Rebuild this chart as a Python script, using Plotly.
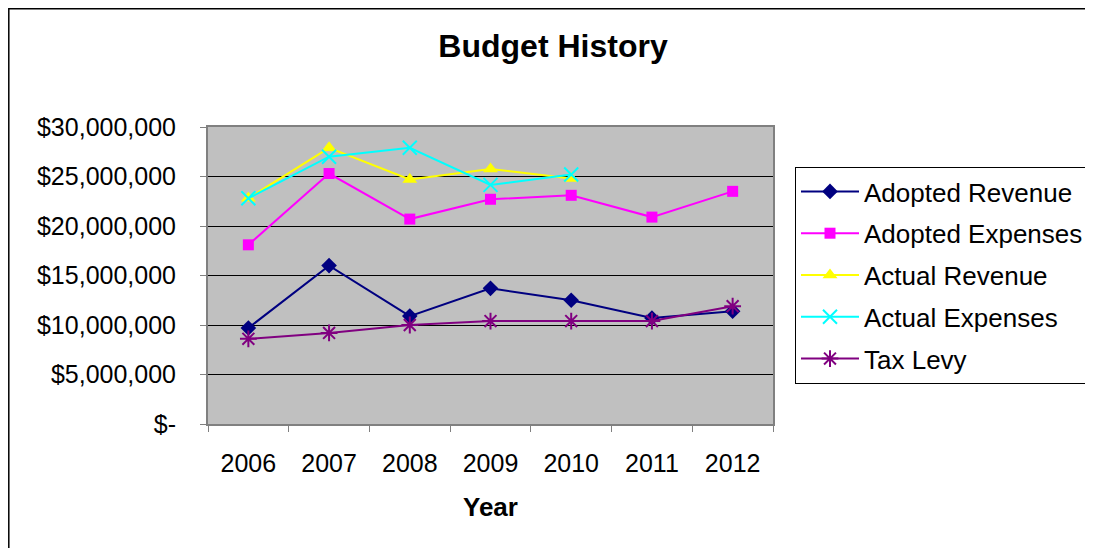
import plotly.graph_objects as go

years = ["2006", "2007", "2008", "2009", "2010", "2011", "2012"]
adopted_revenue = [9.7e6, 16.0e6, 10.9e6, 13.7e6, 12.5e6, 10.7e6, 11.4e6]
adopted_expenses = [18.1e6, 25.3e6, 20.7e6, 22.7e6, 23.1e6, 20.9e6, 23.5e6]
actual_revenue = [22.8e6, 27.9e6, 24.7e6, 25.75e6, 24.8e6, None, None]
actual_expenses = [22.8e6, 27.0e6, 27.9e6, 24.15e6, 25.2e6, None, None]
tax_levy = [8.6e6, 9.2e6, 10.0e6, 10.4e6, 10.4e6, 10.4e6, 11.9e6]

ytick_vals = [0, 5e6, 10e6, 15e6, 20e6, 25e6, 30e6]
ytick_text = ["$-", "$5,000,000", "$10,000,000", "$15,000,000",
              "$20,000,000", "$25,000,000", "$30,000,000"]

FONT = "Liberation Sans, Arial, sans-serif"

series = [
    ("Adopted Revenue", adopted_revenue, "#000080", "diamond", 12, 0),
    ("Adopted Expenses", adopted_expenses, "#FF00FF", "square", 11, 0),
    ("Actual Revenue", actual_revenue, "#FFFF00", "triangle-up", 13, 0),
    ("Actual Expenses", actual_expenses, "#00FFFF", "x-thin-open", 14, 2),
    ("Tax Levy", tax_levy, "#800080", "asterisk-open", 14, 2),
]

fig = go.Figure()
for i, (name, vals, color, sym, size, lw) in enumerate(series):
    marker = dict(symbol=sym, size=size, color=color)
    if lw:
        marker["line"] = dict(color=color, width=lw)
    fig.add_trace(go.Scatter(
        x=years, y=vals, name=name, mode="lines+markers",
        line=dict(color=color, width=2), marker=marker,
        legendgroup="g%d" % i, connectgaps=False,
    ))

# page offset (body margin) of 8px
OFF = 8
# target plot area in screen pixels: x 208..773, y 127..424
L, R, T, B = 208 - OFF, 773 - OFF, 127 - OFF, 424 - OFF
W, H = 1093, 548
pw, ph = R - L, B - T

def px_x(p):
    return (p - OFF - L) / pw

def px_y(p):
    return (B - (p - OFF)) / ph

fig.update_layout(
    width=W, height=H,
    margin=dict(l=L, r=W - R, t=T, b=H - B, pad=0),
    paper_bgcolor="white",
    plot_bgcolor="#C0C0C0",
    font=dict(family=FONT, size=25, color="black"),
    title=dict(text="<b>Budget History</b>", font=dict(size=32, family=FONT, color="black"),
               xref="paper", x=px_x(553), xanchor="center",
               yref="container", y=1 - (46 - OFF) / H, yanchor="middle"),
    showlegend=True,
    legend=dict(
        x=px_x(795), y=px_y(167), xanchor="left", yanchor="top",
        bordercolor="black", borderwidth=1, bgcolor="white",
        font=dict(size=26, family=FONT, color="black"),
        tracegroupgap=5, traceorder="grouped", itemwidth=58,
    ),
    xaxis=dict(
        type="category", range=[-0.5, 6.5],
        showgrid=False, showline=True, linecolor="#808080", linewidth=2, mirror=True,
        ticks="outside", tickson="boundaries", ticklen=6, tickcolor="#808080",
        tickfont=dict(size=25, family=FONT, color="black"),
        ticklabelstandoff=16,
    ),
    yaxis=dict(
        range=[0, 30e6], tickvals=ytick_vals, ticktext=ytick_text,
        showgrid=True, gridcolor="black", gridwidth=1, zeroline=False,
        showline=True, linecolor="#808080", linewidth=2, mirror=True,
        ticks="outside", ticklen=6, tickcolor="#808080",
        tickfont=dict(size=25, family=FONT, color="black"),
        ticklabelstandoff=19,
    ),
    annotations=[dict(text="<b>Year</b>", xref="paper", yref="paper",
                      x=0.5, y=px_y(507), xanchor="center", yanchor="middle",
                      showarrow=False, font=dict(size=26, family=FONT, color="black"))],
    shapes=[dict(type="rect", xref="paper", yref="paper",
                 x0=px_x(8.8), x1=px_x(1110), y0=px_y(8.8), y1=px_y(570),
                 line=dict(color="black", width=1.5), fillcolor="rgba(0,0,0,0)", layer="below")],
)

fig.write_html("out.html")
